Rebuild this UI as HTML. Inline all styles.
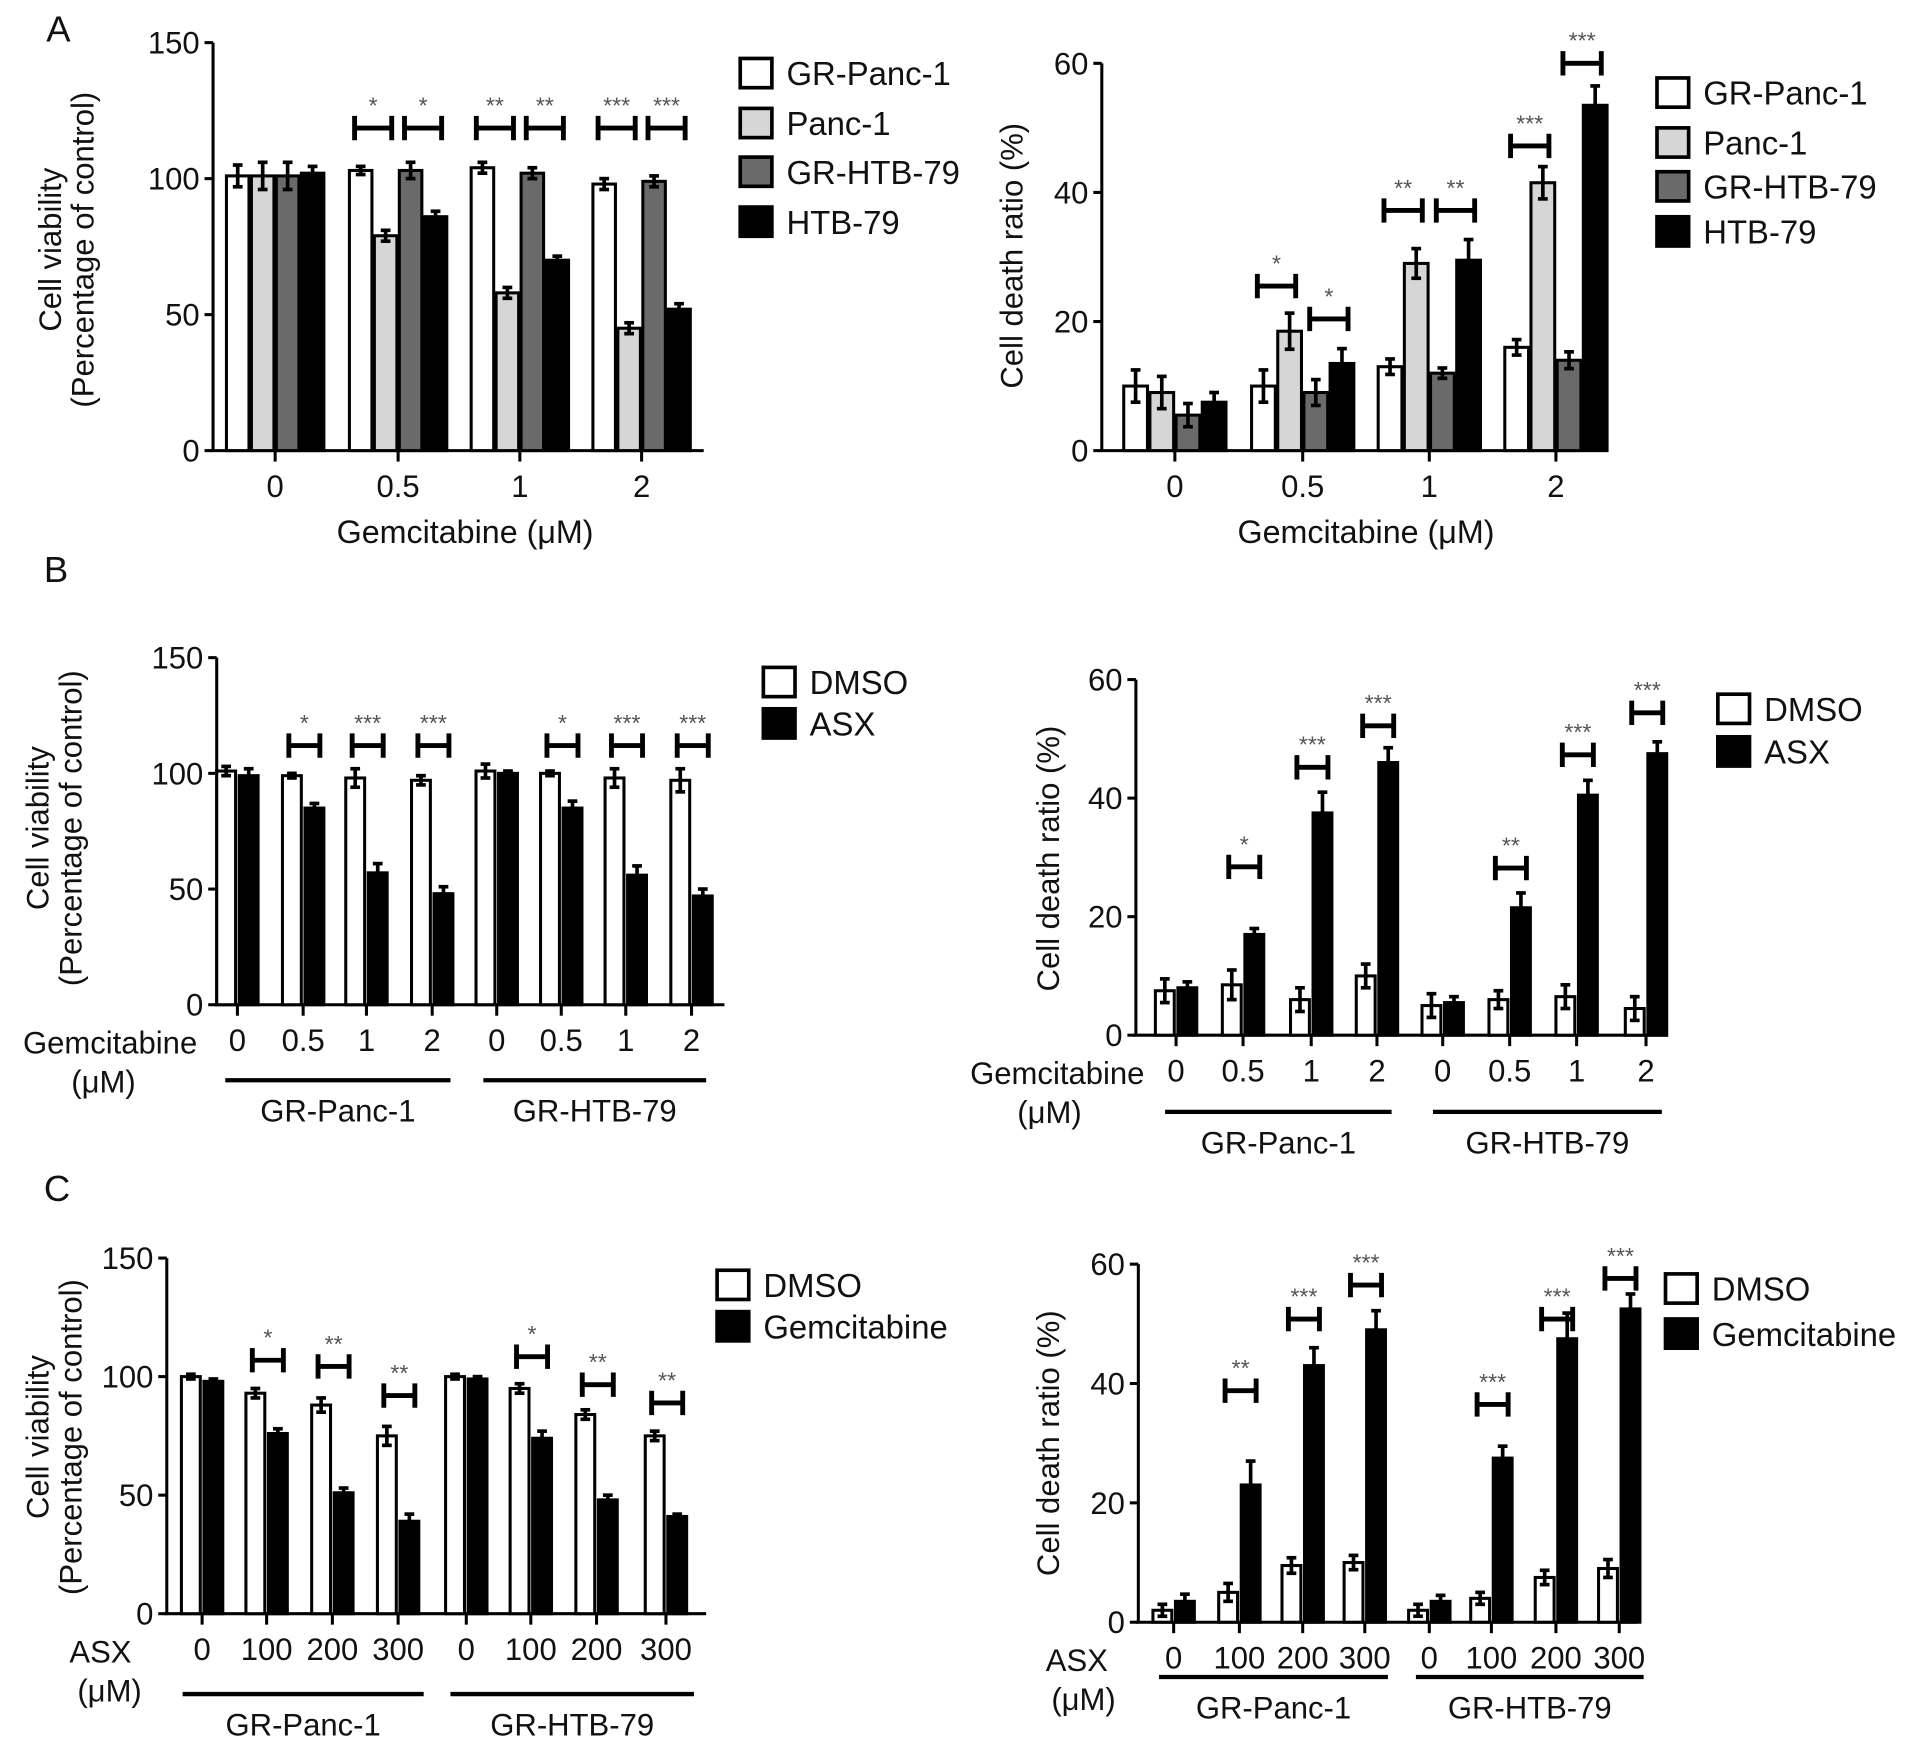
<!DOCTYPE html>
<html><head><meta charset="utf-8">
<style>
html,body{margin:0;padding:0;background:#fff;}
svg{display:block;}
text{font-family:"Liberation Sans",Arial,sans-serif;fill:#111;}
</style></head>
<body>
<svg id="fig" xmlns="http://www.w3.org/2000/svg" width="1909" height="1744" viewBox="0 0 1568 1432" preserveAspectRatio="none">
<text x="38" y="34" font-size="30">A</text>
<text x="36" y="478" font-size="30">B</text>
<text x="36" y="986" font-size="30">C</text>
</svg>
<script>
// ---------- data ----------
const aCategories = ["0","0.5","1","2"];
const aSeries = ["GR-Panc-1","Panc-1","GR-HTB-79","HTB-79"];
const aViabGRPanc = [101,103,104,98];
const aViabPanc = [101,79,58,45];
const aViabGRHTB = [101,103,102,99];
const aViabHTB = [102,86,70,52];
const aViabErr = [[4,1.5,2,2],[5,2,2,2],[5,3,2,2],[2.5,2,1.5,2]];
const aViabTicks = [0,50,100,150];
const aViabStars = ["*","*","**","**","***","***"];
const aViabBrLevel = [118.6,118.6,118.6,118.6,118.6,118.6];

const aDeathGRPanc = [10,10,13,16];
const aDeathPanc = [9,18.5,29,41.5];
const aDeathGRHTB = [5.5,9,12,14];
const aDeathHTB = [7.5,13.5,29.5,53.5];
const aDeathErr = [[2.5,2.5,1.2,1.2],[2.5,2.8,2.3,2.5],[1.8,2,0.8,1.3],[1.5,2.3,3.2,3]];
const aDeathTicks = [0,20,40,60];
const aDeathStars = ["*","*","**","**","***","***"];
const aDeathBrLevel = [25.5,20.4,37.2,37.2,47.2,60];

const pairLabelsGem = ["0","0.5","1","2","0","0.5","1","2"];
const pairLabelsAsx = ["0","100","200","300","0","100","200","300"];
const bViabDMSO = [101,99,98,97,101,100,98,97];
const bViabASX = [99,85,57,48,100,85,56,47];
const bViabErrD = [2,1,4,2,3,1,4,5];
const bViabErrA = [3,2,4,3,1,3,4,3];
const bViabStars = ["","*","***","***","","*","***","***"];
const bViabBrLevel = [0,112,112,112,0,112,112,112];

const bDeathDMSO = [7.5,8.5,6,10,5,6,6.5,4.5];
const bDeathASX = [8,17,37.5,46,5.5,21.5,40.5,47.5];
const bDeathErrD = [2,2.5,2,2,2,1.5,2,2];
const bDeathErrA = [1,1,3.5,2.5,1,2.5,2.5,2];
const bDeathStars = ["","*","***","***","","**","***","***"];
const bDeathBrLevel = [0,28.4,45.2,52.2,0,28.2,47.3,54.4];

const cViabDMSO = [100,93,88,75,100,95,84,75];
const cViabGem = [98,76,51,39,99,74,48,41];
const cViabErrD = [1,2,3,4,1,2,2,2];
const cViabErrG = [1,2,2,3,1,3,2,1];
const cViabStars = ["","*","**","**","","*","**","**"];
const cViabBrLevel = [0,106.9,104.3,92,0,108.4,96.6,88.9];

const cDeathDMSO = [2,5,9.5,10,2,4,7.5,9];
const cDeathGem = [3.5,23,43,49,3.5,27.5,47.5,52.5];
const cDeathErrD = [1,1.5,1.3,1.2,1,1,1.2,1.5];
const cDeathErrG = [1.2,4,3,3.2,1,2,4.3,2.5];
const cDeathStars = ["","**","***","***","","***","***","***"];
const cDeathBrLevel = [0,38.8,50.8,56.5,0,36.5,50.8,57.6];

// ---------- drawing ----------
const NS="http://www.w3.org/2000/svg";
const svg=document.getElementById('fig');
const FS=25.5;
function el(tag,attrs,parent){const e=document.createElementNS(NS,tag);for(const k in attrs)e.setAttribute(k,attrs[k]);(parent||svg).appendChild(e);return e;}
function txt(s,x,y,size,anchor,parent){const t=el('text',{x:x,y:y,'font-size':size,'text-anchor':anchor||'middle'},parent);t.textContent=s;return t;}
const FILLS=["#ffffff","#d6d6d6","#6a6a6a","#000000"];

function axes(g,x0,x1,y0,yTop,ticks,maxV){
  const ys=v=>y0-(y0-yTop)*v/maxV;
  const ax=el('line',{x1:x0,y1:y0,x2:x0,y2:yTop,stroke:'#000','stroke-width':2.5},g);
  
  
  const bx=el('line',{x1:x0-2,y1:y0,x2:x1,y2:y0,stroke:'#000','stroke-width':2.5},g);
  
  
  ticks.forEach(t=>{
    el('line',{x1:x0-7,y1:ys(t),x2:x0,y2:ys(t),stroke:'#000','stroke-width':2.5},g);
    const tl=txt(String(t),x0-11,ys(t)+9,FS,'end',g);
    
    
  });
  return ys;
}
function bar(g,x,w,y0,yv,fill,err,ys,v){
  const r=el('rect',{x:x,y:yv,width:w,height:y0-yv,fill:fill,stroke:'#000','stroke-width':2.5},g);
  
  
  const cx=x+w/2,t=ys(v+err),b=ys(Math.max(0,v-err));
  el('line',{x1:cx,y1:b,x2:cx,y2:t,stroke:'#000','stroke-width':3},g);
  el('line',{x1:cx-4,y1:t,x2:cx+4,y2:t,stroke:'#000','stroke-width':3},g);
  el('line',{x1:cx-4,y1:b,x2:cx+4,y2:b,stroke:'#000','stroke-width':3},g);
}
function bracket(g,xa,xb,y,stars){
  const p=el('path',{d:`M${xa} ${y-10}V${y+10}M${xa} ${y}H${xb}M${xb} ${y-10}V${y+10}`,stroke:'#000','stroke-width':4,fill:'none'},g);
  
  
  const s=txt(stars,(xa+xb)/2,y-12,19,'middle',g);
  s.style.fill='#555';
  
  
}
function ylabel(g,lines,xs,cy){
  lines.forEach((l,i)=>{const t=txt(l,0,0,FS,'middle',g);t.setAttribute('transform',`translate(${xs[i]},${cy}) rotate(-90)`);
    
    });
}
function legend(g,x,ys,labels,fills){
  labels.forEach((l,i)=>{
    const r=el('rect',{x:x,y:ys[i]-12,width:26,height:24,fill:fills[i],stroke:'#000','stroke-width':3},g);
    
    
    const t=txt(l,x+38,ys[i]+10,27,'start',g);
    
    
  });
}

function chart4(name,x0,x1,y0,yTop,ticks,maxV,centers,bw,sp,series,errs,stars,levels,pairs){
  const g=el('g',{});
  
  
  const ys=axes(g,x0,x1,y0,yTop,ticks,maxV);
  const bx=(c,s)=>c+(s-1.5)*sp-bw/2;
  centers.forEach((c,ci)=>{
    el('line',{x1:c,y1:y0,x2:c,y2:y0+9,stroke:'#000','stroke-width':2.5},g);
    const tl=txt(aCategories[ci],c,y0+38,FS,'middle',g);
    
    
    series.forEach((arr,s)=>bar(g,bx(c,s),bw,y0,ys(arr[ci]),FILLS[s],errs[s][ci],ys,arr[ci]));
  });
  let k=0;
  centers.forEach((c,ci)=>{ if(ci===0)return;
    pairs.forEach(p=>{const xa=bx(c,p[0])+bw/2-5,xb=bx(c,p[1])+bw/2+5;bracket(g,xa,xb,ys(levels[k]),stars[k]);k++;});
  });
  return g;
}
function chart2(name,x0,x1,y0,yTop,ticks,maxV,centers,labels,a,b,ea,eb,stars,levels,xTitle,groupY,groupSpans){
  const g=el('g',{});
  
  
  const ys=axes(g,x0,x1,y0,yTop,ticks,maxV);
  const bw=15.5;
  centers.forEach((c,i)=>{
    el('line',{x1:c,y1:y0,x2:c,y2:y0+9,stroke:'#000','stroke-width':2.5},g);
    const tl=txt(labels[i],c,y0+38,FS,'middle',g);
    
    
    bar(g,c-bw-1.5,bw,y0,ys(a[i]),'#fff',ea[i],ys,a[i]);
    bar(g,c+1.5,bw,y0,ys(b[i]),'#000',eb[i],ys,b[i]);
    if(stars[i])bracket(g,c-bw/2-4,c+bw/2+6,ys(levels[i]),stars[i]);
  });
  const t1=txt(xTitle[0],xTitle[1],y0+40,FS,'end',g);
  
  
  const t2=txt('(μM)',xTitle[2],y0+72,FS,'middle',g);
  
  
  groupSpans.forEach((s,i)=>{
    const ln=el('line',{x1:s[0],y1:groupY,x2:s[1],y2:groupY,stroke:'#000','stroke-width':3.5},g);
    
    
    const gl=txt(i===0?'GR-Panc-1':'GR-HTB-79',(s[0]+s[1])/2,groupY+34,FS,'middle',g);
    
    
  });
  return g;
}

let g=chart4('chart-a-viability',175,578,370,35,aViabTicks,150,[226,327,427,527],18.5,20.5,
  [aViabGRPanc,aViabPanc,aViabGRHTB,aViabHTB],aViabErr,aViabStars,aViabBrLevel,[[0,1],[2,3]]);
ylabel(g,['Cell viability','(Percentage of control)'],[50,77],205);
let xt=txt('Gemcitabine (μM)',382,446,FS+1,'middle',g);


legend(g,608,[60,101,141,182],aSeries,FILLS);

g=chart4('chart-a-death',905,1298,370,52,aDeathTicks,60,[965,1070,1174,1278],19.5,21.5,
  [aDeathGRPanc,aDeathPanc,aDeathGRHTB,aDeathHTB],aDeathErr,aDeathStars,aDeathBrLevel,[[0,1],[2,3]]);
ylabel(g,['Cell death ratio (%)'],[840],210);
xt=txt('Gemcitabine (μM)',1122,446,FS+1,'middle',g);


legend(g,1361,[76,117,153,190],aSeries,FILLS);

g=chart2('chart-b-viability',178,595,825,540,[0,50,100,150],150,[195,249,301,355,408,461,514,568],pairLabelsGem,
  bViabDMSO,bViabASX,bViabErrD,bViabErrA,bViabStars,bViabBrLevel,['Gemcitabine',162,85],887,[[185,370],[397,580]]);
ylabel(g,['Cell viability','(Percentage of control)'],[40,67],680);
legend(g,627,[560,594],['DMSO','ASX'],['#fff','#000']);

g=chart2('chart-b-death',933,1370,850,558,[0,20,40,60],60,[966,1021,1077,1131,1185,1240,1295,1352],pairLabelsGem,
  bDeathDMSO,bDeathASX,bDeathErrD,bDeathErrA,bDeathStars,bDeathBrLevel,['Gemcitabine',940,862],913,[[957,1143],[1177,1365]]);
ylabel(g,['Cell death ratio (%)'],[870],705);
legend(g,1411,[582,617],['DMSO','ASX'],['#fff','#000']);

g=chart2('chart-c-viability',137,580,1325,1033,[0,50,100,150],150,[166,219,273,327,383,436,490,547],pairLabelsAsx,
  cViabDMSO,cViabGem,cViabErrD,cViabErrG,cViabStars,cViabBrLevel,['ASX',108,90],1391,[[150,348],[370,570]]);
ylabel(g,['Cell viability','(Percentage of control)'],[40,67],1180);
legend(g,589,[1055,1089],['DMSO','Gemcitabine'],['#fff','#000']);

g=chart2('chart-c-death',935,1345,1332,1038,[0,20,40,60],60,[964,1018,1070,1121,1174,1225,1278,1330],pairLabelsAsx,
  cDeathDMSO,cDeathGem,cDeathErrD,cDeathErrG,cDeathStars,cDeathBrLevel,['ASX',910,890],1377,[[952,1140],[1163,1350]]);
ylabel(g,['Cell death ratio (%)'],[870],1185);
legend(g,1368,[1058,1095],['DMSO','Gemcitabine'],['#fff','#000']);
</script>
</body></html>
